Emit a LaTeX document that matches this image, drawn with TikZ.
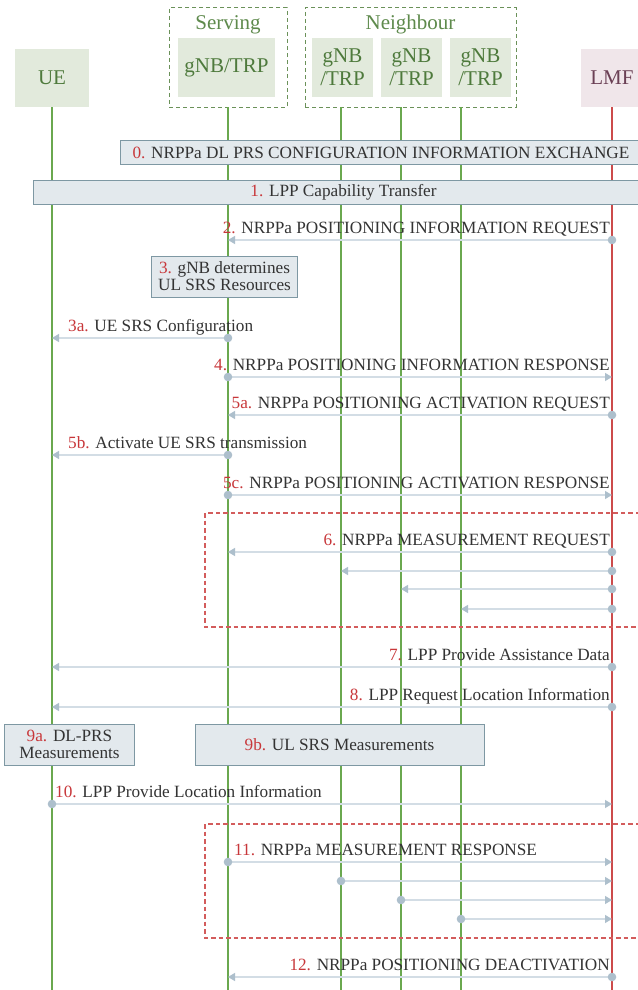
\documentclass[tikz,border=0pt]{standalone}
\usepackage{fontspec}
\setmainfont{Liberation Serif}
\usetikzlibrary{arrows.meta}
\definecolor{lifeg}{HTML}{6AA84F}
\definecolor{lifer}{HTML}{CC4B4B}
\definecolor{headfill}{HTML}{E2EADC}
\definecolor{headtxt}{HTML}{4E7A3C}
\definecolor{lmffill}{HTML}{F0E6EA}
\definecolor{lmftxt}{HTML}{6B4055}
\definecolor{grpc}{HTML}{6B9159}
\definecolor{grptxt}{HTML}{5E8A4C}
\definecolor{msgc}{HTML}{D3DDE5}
\definecolor{dotc}{HTML}{ADBFCC}
\definecolor{stepfill}{HTML}{E3E9ED}
\definecolor{stepdraw}{HTML}{7E98A3}
\definecolor{numc}{HTML}{C8373A}
\definecolor{txtc}{HTML}{333333}
\definecolor{redbox}{HTML}{D35C5C}
\begin{document}
\begin{tikzpicture}[x=1pt,y=-1pt,
  every node/.style={font=\fontsize{17.2}{17}\selectfont, text=txtc, inner sep=0pt},
  head/.style={fill=headfill, text=headtxt, font=\fontsize{21}{23}\selectfont, align=center},
  grplbl/.style={text=grptxt, font=\fontsize{21}{23}\selectfont, anchor=base},
  lifeline/.style={draw=lifeg, line width=1.2pt},
  stepbox/.style={draw=stepdraw, fill=stepfill, line width=1pt, align=center},
  grpbox/.style={draw=grpc, line width=1pt, dash pattern=on 4pt off 3pt},
  redgrp/.style={draw=redbox, line width=1.3pt, dash pattern=on 4.5pt off 3pt},
  msg/.style={draw=msgc, line width=1.3pt, -{Triangle[width=8pt,length=7pt,color=dotc]}},
  lbl/.style={anchor=base east},
  lbll/.style={anchor=base west},
]
\newcommand{\nm}[1]{\textcolor{numc}{#1}}
\newcommand{\dt}[1]{\fill[dotc] (#1) circle[radius=4.3];}
\useasboundingbox (0,0) rectangle (637,990);
\fill[white] (0,0) rectangle (637,990);

% headers
\node[head, minimum width=74, minimum height=58] (ue) at (52,78) {UE};
\node[head, fill=lmffill, text=lmftxt, minimum width=62, minimum height=58] (lmf) at (612,78) {LMF};
\node[grpbox, minimum width=118, minimum height=99] (sgrp) at (228,57.5) {};
\node[head, minimum width=97, minimum height=59] (srv) at (226.5,67.5) {gNB/TRP};
\node[grplbl] (sgrplbl) at (228,30) {Serving};
\node[grpbox, minimum width=211, minimum height=99] (ngrp) at (410.5,57.5) {};
\node[grplbl] (ngrplbl) at (410.5,30) {Neighbour};
\node[head, minimum width=61, minimum height=59] (n1) at (342.5,67.5) {gNB\\/TRP};
\node[head, minimum width=61, minimum height=59] (n2) at (411.5,67.5) {gNB\\/TRP};
\node[head, minimum width=61, minimum height=59] (n3) at (480.5,67.5) {gNB\\/TRP};

% lifeline ends
\coordinate (ueT) at (52,107);   \coordinate (ueB) at (52,990);
\coordinate (srvT) at (228,107); \coordinate (srvB) at (228,990);
\coordinate (n1T) at (341,107);  \coordinate (n1B) at (341,990);
\coordinate (n2T) at (401,107);  \coordinate (n2B) at (401,990);
\coordinate (n3T) at (461,107);  \coordinate (n3B) at (461,990);
\coordinate (lmfT) at (612,107); \coordinate (lmfB) at (612,990);
\draw[lifeline] (ueT) -- (ueB);
\draw[lifeline] (srvT) -- (srvB);
\draw[lifeline] (n1T) -- (n1B);
\draw[lifeline] (n2T) -- (n2B);
\draw[lifeline] (n3T) -- (n3B);
\draw[lifeline, draw=lifer] (lmfT) -- (lmfB);

% dashed red groups
\draw[redgrp] (640,513) -- (205,513) -- (205,627) -- (640,627);
\draw[redgrp] (640,824) -- (205,824) -- (205,938) -- (640,938);

% step boxes
\node[stepbox, anchor=north west, minimum width=530, minimum height=24] (s0) at (120,140) {};
\node (s0t) at (381,152.5) {\nm{0.} NRPPa DL PRS CONFIGURATION INFORMATION EXCHANGE};
\node[stepbox, anchor=north west, minimum width=620, minimum height=24] (s1) at (33,180) {\nm{1.} LPP Capability Transfer};
\node[stepbox, minimum width=146, minimum height=41] (s3) at (224.5,276.5) {\nm{3.} gNB determines\\UL SRS Resources};
\node[stepbox, minimum width=130, minimum height=41] (s9a) at (69.5,744.5) {\nm{9a.} DL-PRS\\Measurements};
\node[stepbox, minimum width=289, minimum height=41] (s9b) at (339.5,744.5) {\nm{9b.} UL SRS Measurements};

% messages
\coordinate (m2a) at (612,240); \coordinate (m2b) at (228,240);
\draw[msg] (m2a) -- (m2b); \dt{m2a}
\node[lbl] (l2) at (610,233) {\nm{2.} NRPPa POSITIONING INFORMATION REQUEST};

\coordinate (m3a) at (228,338); \coordinate (m3b) at (52,338);
\draw[msg] (m3a) -- (m3b); \dt{m3a}
\node[lbll] (l3a) at (68,331) {\nm{3a.} UE SRS Configuration};

\coordinate (m4a) at (228,377); \coordinate (m4b) at (612,377);
\draw[msg] (m4a) -- (m4b); \dt{m4a}
\node[lbl] (l4) at (610,370) {\nm{4.} NRPPa POSITIONING INFORMATION RESPONSE};

\coordinate (m5aa) at (612,415); \coordinate (m5ab) at (228,415);
\draw[msg] (m5aa) -- (m5ab); \dt{m5aa}
\node[lbl] (l5a) at (610,408) {\nm{5a.} NRPPa POSITIONING ACTIVATION REQUEST};

\coordinate (m5ba) at (228,455); \coordinate (m5bb) at (52,455);
\draw[msg] (m5ba) -- (m5bb); \dt{m5ba}
\node[lbll] (l5b) at (68,448) {\nm{5b.} Activate UE SRS transmission};

\coordinate (m5ca) at (228,495); \coordinate (m5cb) at (612,495);
\draw[msg] (m5ca) -- (m5cb); \dt{m5ca}
\node[lbl] (l5c) at (610,488) {\nm{5c.} NRPPa POSITIONING ACTIVATION RESPONSE};

\coordinate (m6a) at (612,552); \coordinate (m6b) at (228,552);
\draw[msg] (m6a) -- (m6b); \dt{m6a}
\node[lbl] (l6) at (610,545) {\nm{6.} NRPPa MEASUREMENT REQUEST};
\coordinate (m6c) at (612,571); \coordinate (m6d) at (341,571);
\draw[msg] (m6c) -- (m6d); \dt{m6c}
\coordinate (m6e) at (612,589); \coordinate (m6f) at (401,589);
\draw[msg] (m6e) -- (m6f); \dt{m6e}
\coordinate (m6g) at (612,609); \coordinate (m6h) at (461,609);
\draw[msg] (m6g) -- (m6h); \dt{m6g}

\coordinate (m7a) at (612,667); \coordinate (m7b) at (52,667);
\draw[msg] (m7a) -- (m7b); \dt{m7a}
\node[lbl] (l7) at (610,660) {\nm{7.} LPP Provide Assistance Data};

\coordinate (m8a) at (612,707); \coordinate (m8b) at (52,707);
\draw[msg] (m8a) -- (m8b); \dt{m8a}
\node[lbl] (l8) at (610,700) {\nm{8.} LPP Request Location Information};

\coordinate (m10a) at (52,804); \coordinate (m10b) at (612,804);
\draw[msg] (m10a) -- (m10b); \dt{m10a}
\node[lbll] (l10) at (55,797) {\nm{10.} LPP Provide Location Information};

\coordinate (m11a) at (228,862); \coordinate (m11b) at (612,862);
\draw[msg] (m11a) -- (m11b); \dt{m11a}
\node[lbll] (l11) at (234,855) {\nm{11.} NRPPa MEASUREMENT RESPONSE};
\coordinate (m11c) at (341,881); \coordinate (m11d) at (612,881);
\draw[msg] (m11c) -- (m11d); \dt{m11c}
\coordinate (m11e) at (401,900); \coordinate (m11f) at (612,900);
\draw[msg] (m11e) -- (m11f); \dt{m11e}
\coordinate (m11g) at (461,919); \coordinate (m11h) at (612,919);
\draw[msg] (m11g) -- (m11h); \dt{m11g}

\coordinate (m12a) at (612,977); \coordinate (m12b) at (228,977);
\draw[msg] (m12a) -- (m12b); \dt{m12a}
\node[lbl] (l12) at (610,970) {\nm{12.} NRPPa POSITIONING DEACTIVATION};
\end{tikzpicture}
\end{document}
